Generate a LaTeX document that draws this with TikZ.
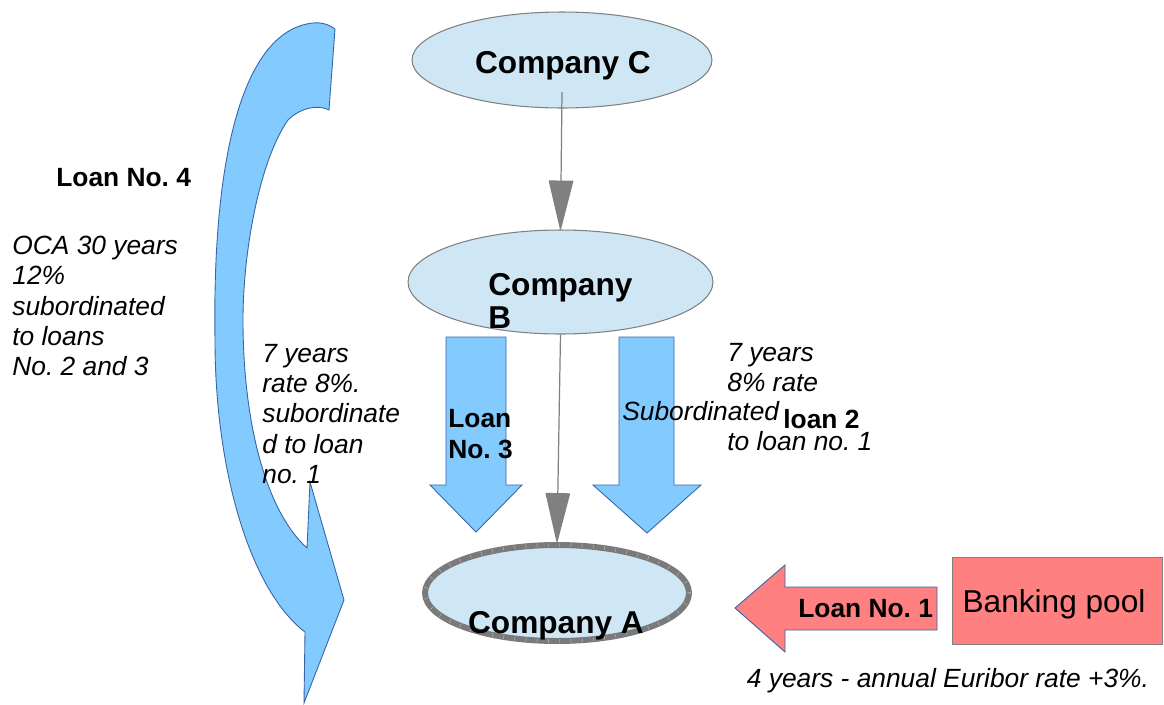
\documentclass[tikz,border=0pt]{standalone}
\usepackage{fontspec}
\setmainfont{Liberation Sans}
\usetikzlibrary{shapes.geometric,arrows.meta}
\frenchspacing
\definecolor{compfill}{HTML}{CFE7F5}
\definecolor{compline}{HTML}{808080}
\definecolor{connline}{HTML}{808080}
\definecolor{arrowblue}{HTML}{83CAFF}
\definecolor{edgeblue}{HTML}{3465A4}
\definecolor{salmon}{HTML}{FF8080}
\definecolor{thickline}{HTML}{7A7A7A}
\definecolor{tickline}{HTML}{A8A8A8}
\tikzset{
  comp/.style={ellipse, fill=compfill, draw=compline, line width=0.6pt, inner sep=0pt},
  conn/.style={draw=connline, line width=0.7pt, -{Triangle[width=14pt,length=29pt,round]}},
  barrow/.style={fill=arrowblue, draw=edgeblue, line width=0.5pt},
  rarrow/.style={fill=salmon, draw=edgeblue, line width=0.5pt},
  lbl/.style={font=\fontsize{15}{17.4}\selectfont\bfseries, inner sep=0pt},
  itxt/.style={font=\fontsize{15}{17.2}\selectfont\itshape, inner sep=0pt, align=left},
  big/.style={font=\fontsize{18}{18.8}\selectfont\bfseries, inner sep=0pt},
}
\begin{document}
\begin{tikzpicture}[x=0.02cm,y=-0.02cm]
\useasboundingbox (0,0) rectangle (1164,704);

% curved arrow (Loan No. 4)
\draw[barrow] (335,29) -- (329,110)
  .. controls (318,104) and (300,108) .. (288,120)
  .. controls (260,160) and (243,250) .. (243,320)
  .. controls (243,420) and (265,510) .. (307,548)
  -- (310,482) -- (344,600) -- (304,703) -- (305,632)
  .. controls (250,590) and (215,470) .. (215,340)
  .. controls (212,150) and (245,30) .. (313,23)
  .. controls (322,22) and (330,25) .. (335,29) -- cycle;

% ellipses
\node[comp, minimum width=6cm, minimum height=1.92cm] (C) at (562,60) {};
\node[comp, minimum width=6.1cm, minimum height=2.08cm] (B) at (560.5,282) {};
\node[ellipse, fill=compfill, draw=thickline, line width=3.4pt, inner sep=0pt,
      minimum width=5.28cm, minimum height=1.92cm,
      postaction={draw=tickline, line width=2.2pt, dash pattern=on 0.4pt off 6pt}] (A) at (557,593) {};

% block arrows
\draw[barrow] (446,337) -- (506,337) -- (506,485) -- (522,485) -- (476,532) -- (430,485) -- (446,485) -- cycle;
\draw[barrow] (619,337) -- (674,337) -- (674,485) -- (701,485) -- (647,533) -- (593,485) -- (619,485) -- cycle;
\draw[rarrow] (937,587) -- (937,630) -- (785,630) -- (785,652) -- (735,608) -- (785,565) -- (785,587) -- cycle;

% banking pool
\node[draw=compline, fill=salmon, line width=0.5pt, minimum width=4.2cm, minimum height=1.74cm, inner sep=0pt] (pool) at (1057,600.5) {};
\node[font=\fontsize{18}{20}\selectfont, inner sep=0pt, anchor=base] (pooltext) at (1054,612) {Banking pool};

% connectors
\draw[conn] ([yshift=-0.64cm]C.center) -- (B.north);
\draw[conn] (B.south) -- (A.north);

% company texts
\node[big, anchor=base] (Ctext) at (563,73) {Company C};
\node[big, anchor=north west, align=left] (Btext) at (488,273.5) {Company\\B};
\node[big, anchor=base] (Atext) at (556,633) {Company A};

% labels
\node[lbl, anchor=base west] (l4) at (56,186) {Loan No. 4};
\node[itxt, anchor=north west] (l4text) at (12,236) {OCA 30 years\\12\%\\subordinated\\to loans\\No. 2 and 3};
\node[itxt, anchor=north west] (l3text) at (262,344) {7 years\\rate 8\%.\\subordinate\\d to loan\\no. 1};
\node[lbl, anchor=north west, align=left] (l3) at (448,409) {Loan\\No. 3};
\node[itxt, anchor=north west] (l2text) at (727,343) {7 years\\8\% rate};
\node[itxt, anchor=base west] (l2sub) at (622,420) {Subordinated};
\node[lbl, anchor=base west] (l2) at (783,428) {loan 2};
\node[itxt, anchor=base west] (l2to) at (727,450) {to loan no. 1};
\node[lbl, anchor=base west] (l1) at (798,617) {Loan No. 1};
\node[itxt, anchor=base] (l1text) at (948,687) {4 years - annual Euribor rate +3\%.};
\end{tikzpicture}
\end{document}
